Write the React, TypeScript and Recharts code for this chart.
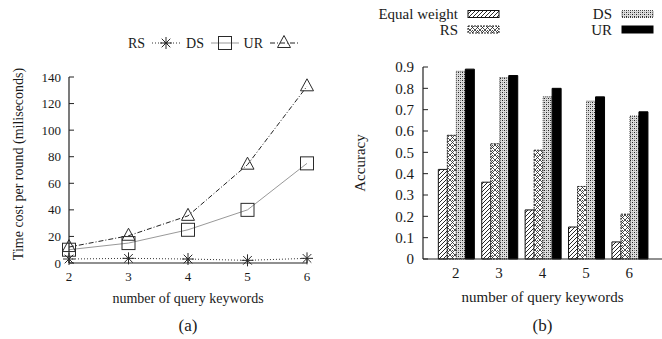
import React from 'react';
import { LineChart, Line, BarChart, Bar, XAxis, YAxis, Legend, Label } from 'recharts';

// ---------- data ----------
const keywords = [2, 3, 4, 5, 6];

const timeRS = [3, 3.5, 3, 2, 3.5];
const timeDS = [10, 15, 25, 40, 75];
const timeUR = [12, 20.5, 35.5, 74, 133];
const timeTicks = [0, 20, 40, 60, 80, 100, 120, 140];

const accEqual = [0.42, 0.36, 0.23, 0.15, 0.08];
const accRS = [0.58, 0.54, 0.51, 0.34, 0.21];
const accDS = [0.88, 0.85, 0.76, 0.74, 0.67];
const accUR = [0.89, 0.86, 0.8, 0.76, 0.69];
const accTicks = [0, 0.1, 0.2, 0.3, 0.4, 0.5, 0.6, 0.7, 0.8, 0.9];

const xTitle = 'number of query keywords';
const timeTitle = 'Time cost per round (miliseconds)';
const accTitle = 'Accuracy';

const timeData = keywords.map((k, i) => ({ k, RS: timeRS[i], DS: timeDS[i], UR: timeUR[i] }));
const accData = keywords.map((k, i) => ({
  k: String(k),
  eq: accEqual[i],
  RS: accRS[i],
  DS: accDS[i],
  UR: accUR[i],
}));

// ---------- styles ----------
const INK = '#1a1a1a';
const FONT = '"Liberation Serif", "Times New Roman", serif';

const lineSeries = [
  { key: 'RS', name: 'RS', stroke: '#333', dash: '1 2', shape: 'star' },
  { key: 'DS', name: 'DS', stroke: '#999', dash: undefined as string | undefined, shape: 'square' },
  { key: 'UR', name: 'UR', stroke: '#222', dash: '5 2 1 2', shape: 'triangle' },
];

const barSeries = [
  { key: 'eq', name: 'Equal weight', fill: 'url(#pEq)', stroke: '#111', dash: undefined as string | undefined },
  { key: 'RS', name: 'RS', fill: 'url(#pRS)', stroke: '#222', dash: '2 1' },
  { key: 'DS', name: 'DS', fill: 'url(#pDS)', stroke: '#444', dash: '1 1' },
  { key: 'UR', name: 'UR', fill: '#000', stroke: '#000', dash: undefined },
];

function Marker({ shape, cx, cy }: { shape: string; cx: number; cy: number }) {
  const c = '#2a2a2a';
  if (shape === 'star') {
    const r = 6;
    const d = 4.3;
    return (
      <g stroke={c} strokeWidth={1}>
        <line x1={cx - r} y1={cy} x2={cx + r} y2={cy} />
        <line x1={cx} y1={cy - r} x2={cx} y2={cy + r} />
        <line x1={cx - d} y1={cy - d} x2={cx + d} y2={cy + d} />
        <line x1={cx - d} y1={cy + d} x2={cx + d} y2={cy - d} />
      </g>
    );
  }
  if (shape === 'square') {
    return <rect x={cx - 6.5} y={cy - 6.5} width={13} height={13} fill="none" stroke={c} strokeWidth={1} />;
  }
  return (
    <polygon
      points={`${cx},${cy - 7.5} ${cx - 6.5},${cy + 4.5} ${cx + 6.5},${cy + 4.5}`}
      fill="none"
      stroke={c}
      strokeWidth={1}
    />
  );
}

function LineLegend({ payload }: any) {
  const items = lineSeries.filter((s) => (payload || []).some((e: any) => e.dataKey === s.key));
  return (
    <svg width={330} height={60} style={{ display: 'block' }}>
      {items.map((s, i) => {
        const tx = 145 + i * 59;
        const y = 43;
        return (
          <g key={s.key}>
            <text x={tx} y={y} textAnchor="end" dominantBaseline="central" fontSize={14} fill={INK} fontFamily={FONT}>
              {s.name}
            </text>
            <line x1={tx + 7} y1={y} x2={tx + 35} y2={y} stroke={s.stroke} strokeDasharray={s.dash} strokeWidth={1} />
            <Marker shape={s.shape} cx={tx + 21} cy={y} />
          </g>
        );
      })}
    </svg>
  );
}

function BarLegend({ payload }: any) {
  const items = barSeries.filter((s) => (payload || []).some((e: any) => e.dataKey === s.key));
  return (
    <svg width={332} height={40} style={{ display: 'block' }}>
      {items.map((s, i) => {
        const col = Math.floor(i / 2);
        const row = i % 2;
        const tx = col === 0 ? 128 : 282;
        const y = row === 0 ? 14 : 29.5;
        return (
          <g key={s.key}>
            <text x={tx} y={y} textAnchor="end" dominantBaseline="central" fontSize={15} fill={INK} fontFamily={FONT}>
              {s.name}
            </text>
            <rect
              x={tx + 10}
              y={y - 3.5}
              width={31}
              height={7}
              fill={s.fill}
              stroke={s.stroke}
              strokeDasharray={s.dash}
              strokeWidth={1}
            />
          </g>
        );
      })}
    </svg>
  );
}

const vTitle = (text: string, dx: number, dy: number, fontSize: number) => (props: any) => {
  const vb = props.viewBox || {};
  const x = vb.x + dx;
  const y = vb.y + vb.height / 2 + dy;
  return (
    <text
      x={x}
      y={y}
      transform={`rotate(-90 ${x} ${y})`}
      textAnchor="middle"
      dominantBaseline="central"
      fontSize={fontSize}
      fill={INK}
      fontFamily={FONT}
    >
      {text}
    </text>
  );
};

const hTitle = (text: string, dy: number, fontSize: number) => (props: any) => {
  const vb = props.viewBox || {};
  const x = vb.x + vb.width / 2;
  const y = vb.y + dy;
  return (
    <text x={x} y={y} textAnchor="middle" fontSize={fontSize} fill={INK} fontFamily={FONT}>
      {text}
    </text>
  );
};

const axisLine = { stroke: '#222', strokeWidth: 1.2 };
const tickLine = { stroke: '#222', strokeWidth: 1 };

export default function App() {
  return (
    <div
      style={{
        position: 'absolute',
        left: 0,
        top: 0,
        width: 662,
        height: 339,
        overflow: 'hidden',
        background: '#fff',
        fontFamily: FONT,
      }}
    >
      <svg width={0} height={0} style={{ position: 'absolute' }}>
        <defs>
          <pattern id="pEq" patternUnits="userSpaceOnUse" width={4} height={4}>
            <rect width={4} height={4} fill="#fff" />
            <path d="M-1,1 l2,-2 M0,4 l4,-4 M3,5 l2,-2" stroke="#111" strokeWidth={0.9} />
          </pattern>
          <pattern id="pRS" patternUnits="userSpaceOnUse" width={5} height={5}>
            <rect width={5} height={5} fill="#fff" />
            <path d="M0,0 L5,5 M5,0 L0,5" stroke="#222" strokeWidth={0.8} />
            <rect x={2} y={0} width={1} height={1} fill="#444" />
          </pattern>
          <pattern id="pDS" patternUnits="userSpaceOnUse" width={4} height={4}>
            <rect width={4} height={4} fill="#ddd" />
            <rect x={0} y={0} width={1} height={1} fill="#222" />
            <rect x={2} y={2} width={1} height={1} fill="#222" />
            <rect x={2} y={0} width={1} height={1} fill="#888" />
            <rect x={0} y={2} width={1} height={1} fill="#888" />
          </pattern>
        </defs>
      </svg>

      {/* (a) line chart */}
      <div style={{ position: 'absolute', left: 0, top: 0 }}>
        <LineChart
          width={330}
          height={339}
          data={timeData}
          margin={{ top: 77, right: 23, bottom: 46, left: 0 }}
        >
          <XAxis
            dataKey="k"
            type="number"
            domain={[2, 6]}
            ticks={keywords}
            interval={0}
            height={30}
            axisLine={axisLine}
            tickLine={tickLine}
            tickSize={-5}
            tickMargin={14}
            tick={{ fill: INK, fontSize: 13 }}
            allowDecimals={false}
          >
            <Label content={hTitle(xTitle, 40, 14)} />
            <Label content={hTitle('(a)', 68, 17)} />
          </XAxis>
          <XAxis
            xAxisId="top"
            dataKey="k"
            type="number"
            orientation="top"
            domain={[2, 6]}
            ticks={keywords}
            interval={0}
            height={0}
            axisLine={axisLine}
            tickLine={tickLine}
            tickSize={-5}
            tick={false}
          />
          <YAxis
            type="number"
            domain={[0, 140]}
            ticks={timeTicks}
            interval={0}
            width={69}
            axisLine={axisLine}
            tickLine={tickLine}
            tickSize={-5}
            tickMargin={13}
            tick={{ fill: INK, fontSize: 13 }}
          >
            <Label content={vTitle(timeTitle, 18, -6, 14)} />
          </YAxis>
          <YAxis
            yAxisId="right"
            orientation="right"
            type="number"
            domain={[0, 140]}
            ticks={timeTicks}
            interval={0}
            width={0}
            axisLine={axisLine}
            tickLine={tickLine}
            tickSize={-5}
            tick={false}
          />
          <Legend
            layout="horizontal"
            verticalAlign="middle"
            align="center"
            wrapperStyle={{ position: 'absolute', left: 0, top: 0, width: 330, height: 60 }}
            content={(p: any) => <LineLegend payload={p.payload} />}
          />
          {lineSeries.map((s) => (
            <Line
              key={s.key}
              dataKey={s.key}
              name={s.name}
              type="linear"
              stroke={s.stroke}
              strokeDasharray={s.dash}
              strokeWidth={1}
              isAnimationActive={false}
              activeDot={false}
              dot={(p: any) => <Marker key={`${s.key}-${p.index}`} shape={s.shape} cx={p.cx} cy={p.cy} />}
            />
          ))}
        </LineChart>
      </div>

      {/* (b) bar chart */}
      <div style={{ position: 'absolute', left: 330, top: 0 }}>
        <BarChart
          width={332}
          height={339}
          data={accData}
          margin={{ top: 67, right: 0, bottom: 50, left: 0 }}
          barCategoryGap="10%"
          barGap={0}
        >
          <XAxis
            dataKey="k"
            type="category"
            padding={{ left: 11, right: 11 }}
            interval={0}
            height={30}
            axisLine={axisLine}
            tickLine={false}
            tickMargin={2}
            tick={{ fill: INK, fontSize: 15 }}
          >
            <Label content={hTitle(xTitle, 43, 15)} />
            <Label content={hTitle('(b)', 72, 17)} />
          </XAxis>
          <XAxis
            xAxisId="top"
            dataKey="k"
            type="category"
            orientation="top"
            padding={{ left: 11, right: 11 }}
            interval={0}
            height={0}
            axisLine={axisLine}
            tickLine={tickLine}
            tickSize={-5}
            tick={false}
          />
          <YAxis
            type="number"
            domain={[0, 0.9]}
            ticks={accTicks}
            interval={0}
            width={93}
            axisLine={axisLine}
            tickLine={tickLine}
            tickSize={-5}
            tickMargin={14}
            tick={{ fill: INK, fontSize: 15 }}
            tickFormatter={(v: number) => (v === 0 ? '0' : v.toFixed(1))}
          >
            <Label content={vTitle(accTitle, 30, 0, 15)} />
          </YAxis>
          <Legend
            layout="horizontal"
            verticalAlign="middle"
            align="center"
            wrapperStyle={{ position: 'absolute', left: 0, top: 0, width: 332, height: 40 }}
            content={(p: any) => <BarLegend payload={p.payload} />}
          />
          {barSeries.map((s) => (
            <Bar
              key={s.key}
              dataKey={s.key}
              name={s.name}
              fill={s.fill}
              stroke={s.stroke}
              strokeDasharray={s.dash}
              strokeWidth={1}
              isAnimationActive={false}
            />
          ))}
        </BarChart>
      </div>
    </div>
  );
}
